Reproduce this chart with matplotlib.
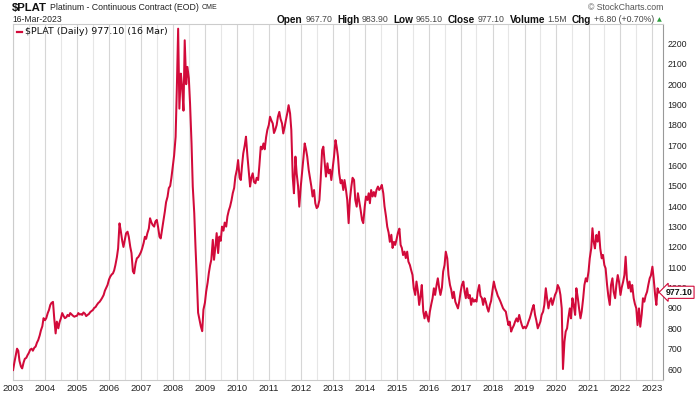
import matplotlib
matplotlib.use('Agg')
import matplotlib.pyplot as plt
import matplotlib.dates as mdates
from matplotlib.lines import Line2D
from matplotlib.ticker import MultipleLocator, FixedLocator
import pandas as pd
import numpy as np

# semi-monthly closes (1st and 15th of each month)
p2003 = [595, 630, 668, 700, 690, 640, 612, 603, 632, 650, 655, 668, 680, 695, 700, 690, 705, 710, 730, 742, 765, 790, 810, 850]
p2004 = [840, 850, 875, 890, 915, 925, 930, 850, 775, 833, 800, 830, 850, 875, 860, 850, 855, 866, 860, 875, 868, 862, 857, 860]
p2005 = [862, 875, 868, 870, 866, 878, 872, 860, 866, 870, 880, 885, 890, 900, 905, 915, 925, 930, 940, 950, 964, 985, 1000, 1013]
p2006 = [1040, 1054, 1065, 1070, 1085, 1111, 1150, 1193, 1316, 1280, 1230, 1200, 1235, 1267, 1275, 1250, 1200, 1170, 1080, 1070, 1120, 1144, 1150, 1160]
p2007 = [1175, 1193, 1220, 1250, 1240, 1267, 1290, 1341, 1320, 1308, 1300, 1325, 1333, 1300, 1250, 1242, 1292, 1330, 1374, 1420, 1447, 1489, 1500, 1540]
p2008 = [1600, 1650, 1741, 1980, 2273, 1880, 2052, 1990, 1870, 2216, 2000, 2085, 2030, 1905, 1709, 1497, 1366, 1203, 1039, 877, 840, 810, 786, 892]
p2009 = [926, 980, 1025, 1073, 1110, 1137, 1235, 1137, 1202, 1268, 1170, 1251, 1230, 1300, 1280, 1320, 1300, 1350, 1380, 1398, 1430, 1464, 1490, 1546]
p2010 = [1580, 1627, 1540, 1529, 1600, 1660, 1700, 1742, 1650, 1578, 1497, 1540, 1562, 1520, 1513, 1540, 1529, 1600, 1693, 1680, 1709, 1680, 1740, 1775]
p2011 = [1800, 1840, 1820, 1807, 1760, 1775, 1800, 1840, 1864, 1830, 1807, 1758, 1790, 1824, 1860, 1897, 1856, 1775, 1546, 1464, 1644, 1562, 1500, 1398]
p2012 = [1497, 1560, 1640, 1709, 1680, 1644, 1578, 1540, 1497, 1448, 1480, 1415, 1391, 1398, 1430, 1529, 1676, 1693, 1611, 1546, 1611, 1562, 1580, 1529]
p2013 = [1590, 1644, 1725, 1690, 1644, 1562, 1513, 1529, 1480, 1529, 1480, 1431, 1317, 1431, 1497, 1540, 1529, 1431, 1398, 1464, 1420, 1382, 1333, 1317]
p2014 = [1398, 1448, 1431, 1464, 1415, 1480, 1448, 1470, 1448, 1480, 1497, 1480, 1490, 1505, 1464, 1400, 1350, 1300, 1270, 1225, 1260, 1195, 1225, 1210]
p2015 = [1240, 1270, 1290, 1210, 1195, 1160, 1177, 1145, 1177, 1128, 1111, 1087, 1062, 997, 964, 1030, 980, 915, 960, 1013, 882, 849, 882, 860]
p2016 = [833, 882, 920, 948, 997, 964, 1013, 1046, 997, 964, 1000, 1079, 1111, 1177, 1144, 1062, 1013, 990, 948, 980, 931, 915, 898, 930]
p2017 = [980, 1013, 1030, 980, 948, 997, 948, 964, 915, 948, 931, 940, 931, 980, 1013, 960, 948, 915, 948, 931, 900, 882, 915, 935]
p2018 = [990, 1030, 997, 980, 960, 948, 931, 915, 898, 890, 882, 849, 816, 833, 784, 800, 815, 833, 849, 833, 866, 840, 816, 800]
p2019 = [808, 800, 815, 833, 849, 870, 898, 915, 866, 840, 800, 816, 833, 866, 882, 915, 997, 948, 898, 931, 948, 915, 940, 964]
p2020 = [980, 1013, 997, 964, 898, 600, 734, 784, 800, 849, 898, 849, 948, 915, 866, 997, 948, 898, 849, 882, 948, 1013, 1046, 1030]
p2021 = [1079, 1144, 1193, 1292, 1226, 1193, 1259, 1226, 1275, 1193, 1144, 1161, 1111, 1095, 1013, 960, 915, 1013, 1046, 980, 948, 1013, 1062, 1030]
p2022 = [964, 1000, 1030, 1062, 1152, 1046, 997, 1030, 980, 1013, 948, 920, 898, 816, 898, 808, 870, 948, 931, 960, 980, 1013, 1046, 1060]
p2023 = [1103, 1046, 964, 915, 997, 977.10]

years = list(range(2003, 2024))
prices = [p2003, p2004, p2005, p2006, p2007, p2008, p2009, p2010, p2011, p2012,
          p2013, p2014, p2015, p2016, p2017, p2018, p2019, p2020, p2021, p2022, p2023]

y_ticks = list(range(600, 2300, 100))

header_parts = [('Open', 'bold'), ('967.70', 'normal'), ('High', 'bold'), ('983.90', 'normal'),
                ('Low', 'bold'), ('965.10', 'normal'), ('Close', 'bold'), ('977.10', 'normal'),
                ('Volume', 'bold'), ('1.5M', 'normal'), ('Chg', 'bold'), ('+6.80 (+0.70%)', 'normal')]

RED = '#d20a3a'

plt.rcParams['font.family'] = ['Liberation Sans', 'DejaVu Sans']

dates, vals = [], []
for yr, p in zip(years, prices):
    dates.extend(pd.date_range(f'{yr}-01-01', periods=len(p), freq='SMS'))
    vals.extend(p)

W, H = 699, 393
fig = plt.figure(figsize=(W / 100, H / 100), dpi=100)
ax = fig.add_axes([13 / W, 1 - 380 / H, (663 - 13) / W, (380 - 24) / H])

ax.plot(dates, vals, color=RED, lw=1.45, zorder=3)

ax.set_xlim(pd.Timestamp('2002-12-31'), pd.Timestamp('2023-05-02'))
ax.set_ylim(546, 2296)

# grid: years + half years, every 100 on price
ax.xaxis.set_major_locator(mdates.YearLocator())
ax.xaxis.set_major_formatter(mdates.DateFormatter('%Y'))
ax.xaxis.set_minor_locator(mdates.MonthLocator(bymonth=7))
ax.yaxis.set_major_locator(FixedLocator(y_ticks))
ax.yaxis.set_minor_locator(MultipleLocator(100))
ax.grid(True, which='major', axis='x', color='#d6d6d6', lw=0.8)
ax.grid(True, which='minor', axis='x', color='#e6e6e6', lw=0.8)
ax.grid(True, which='minor', axis='y', color='#e2e2e2', lw=0.8)
ax.set_axisbelow(True)

ax.yaxis.tick_right()
ax.tick_params(axis='y', which='both', length=0, pad=3, labelsize=6.3, colors='#222222')
ax.tick_params(axis='x', which='both', length=0, pad=3, labelsize=6.8, colors='#222222')

for s in ['left', 'top', 'bottom']:
    ax.spines[s].set_color('#cccccc')
    ax.spines[s].set_linewidth(0.8)
ax.spines['right'].set_color('#999999')
ax.spines['right'].set_linewidth(0.8)

# last value tag on the axis
ax.text(1.004, 977.10, '977.10', transform=ax.get_yaxis_transform(), ha='left', va='center',
        fontsize=6.3, fontweight='bold', color='#111111', zorder=10,
        bbox=dict(boxstyle='larrow,pad=0.18', fc='white', ec=RED, lw=0.8))

# legend inside the plot
fig.add_artist(Line2D([17 / W, 22 / W], [1 - 31.5 / H] * 2, color=RED, lw=1.6, transform=fig.transFigure))
fig.text(25 / W, 1 - 31.5 / H, '$PLAT (Daily) 977.10 (16 Mar)', family='DejaVu Sans',
         fontsize=6.8, va='center', ha='left', color='#111111')

renderer = fig.canvas.get_renderer()


def put_row(x, y, parts):
    for s, size, weight, color, gap in parts:
        t = fig.text(x / W, 1 - y / H, s, fontsize=size, fontweight=weight, color=color,
                     va='center', ha='left')
        bb = t.get_window_extent(renderer=renderer)
        x = bb.x1 + gap
    return x


put_row(12, 7.5, [('$PLAT', 8.2, 'bold', '#111111', 3),
                  ('Platinum - Continuous Contract (EOD)', 6.3, 'normal', '#222222', 3),
                  ('CME', 5.0, 'normal', '#222222', 0)])
fig.text(12 / W, 1 - 20 / H, '16-Mar-2023', fontsize=6.2, color='#222222', va='center', ha='left')

row = []
for s, w in header_parts:
    if w == 'bold':
        row.append((s, 7.2, 'bold', '#111111', 2.5))
    else:
        row.append((s, 6.3, 'normal', '#444444', 5))
x_end = put_row(277, 20, row)
fig.text((x_end - 2) / W, 1 - 20 / H, '\u25b2', fontsize=4.5, color='#2e9e3e', va='center', ha='left',
         family='DejaVu Sans')

fig.text(663 / W, 1 - 7 / H, '\u00a9 StockCharts.com', fontsize=6.3, color='#555555', va='center', ha='right')

fig.savefig('out.png', dpi=100)
